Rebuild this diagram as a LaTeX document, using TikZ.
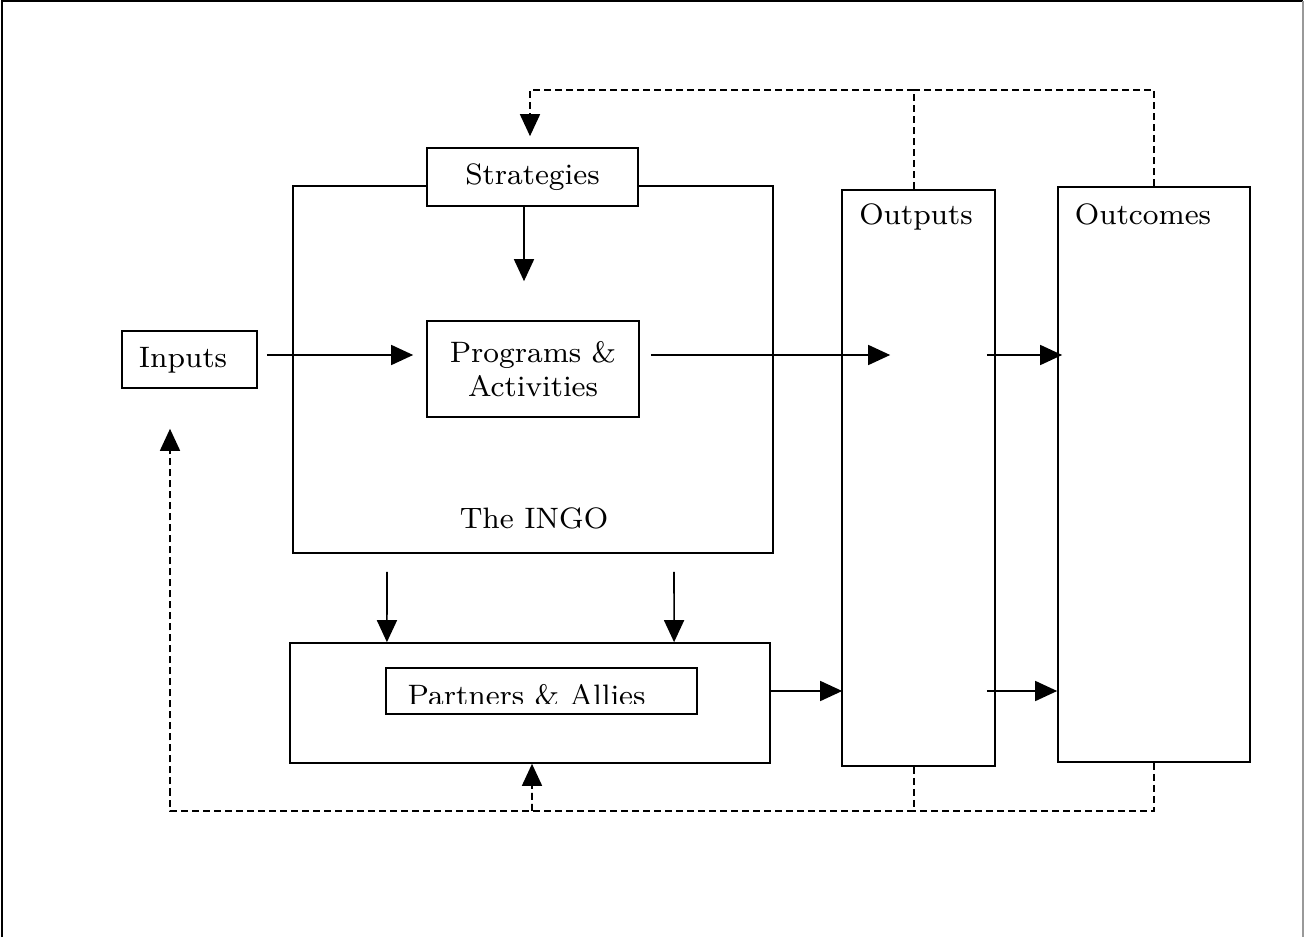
\documentclass[tikz,border=0pt]{standalone}
\usetikzlibrary{arrows.meta}
\begin{document}
\begin{tikzpicture}[x=0.01cm,y=-0.01cm,
  every node/.style={font=\fontsize{8.4}{9.7}\selectfont},
  box/.style={draw,line width=0.45pt,rectangle,inner sep=0pt,align=center},
  arr/.style={line width=0.45pt,-{Triangle[length=0.22cm,width=0.2cm]}},
  fb/.style={line width=0.45pt,dash pattern=on 0.07cm off 0.04cm},
  fbarr/.style={fb,-{Triangle[length=0.22cm,width=0.2cm]}},
  lab/.style={inner sep=0pt}]
\useasboundingbox (0,0) rectangle (1304,937);
% frame
\draw[line width=0.6pt] (2,937) -- (2,1) -- (1303,1);
\draw[line width=0.6pt,black!40] (1303,1) -- (1303,937);
% boxes
\node[box,minimum width=4.80cm,minimum height=3.67cm] (ingo) at (533,369.5) {};
\node[lab] (ingolab) at (534,518) {The INGO};
\node[box,fill=white,minimum width=2.11cm,minimum height=0.58cm] (strat) at (532.5,177) {Strategies};
\node[box,minimum width=2.12cm,minimum height=0.96cm] (prog) at (533,369) {Programs \&\\Activities};
\node[box,minimum width=1.35cm,minimum height=0.57cm] (inputs) at (189.5,359.5) {};
\node[lab] (inputslab) at (183,360) {Inputs};
\node[box,minimum width=1.53cm,minimum height=5.76cm] (outputs) at (918.5,478) {};
\node[lab] (outputslab) at (916,217) {Outputs};
\node[box,minimum width=1.92cm,minimum height=5.75cm] (outcomes) at (1154,474.5) {};
\node[lab] (outcomeslab) at (1143,214) {Outcomes};
\node[box,minimum width=4.80cm,minimum height=1.20cm] (partners) at (530,703) {};
\node[box,minimum width=3.11cm,minimum height=0.46cm] (pinner) at (541.5,691) {};
\begin{scope}
  \clip (386,668) rectangle (697,703);
  \node[lab,anchor=base west] (plab) at (407,705) {Partners \& Allies};
\end{scope}
% solid arrows
\draw[arr] ([xshift=-0.085cm]strat.south) -- ([shift={(-9,-39)}]prog.north);
\draw[arr] ([shift={(9,-4.5)}]inputs.east) -- ([shift={(-13,-14)}]prog.west);
\draw[arr] ([shift={(11,-14)}]prog.east) -- ([shift={(49,-123)}]outputs.west);
\draw[arr] ([shift={(-9,-123)}]outputs.east) -- ([shift={(5,-119.5)}]outcomes.west);
\draw[arr] ([shift={(0,-12)}]partners.east) -- ([shift={(1,213)}]outputs.west);
\draw[arr] ([shift={(-9,213)}]outputs.east) -- ([shift={(0,216.5)}]outcomes.west);
\draw[arr] ([shift={(-146,18)}]ingo.south) -- ([xshift=-1.43cm]partners.north);
\draw[arr] ([shift={(141,18)}]ingo.south) -- ([xshift=1.44cm]partners.north);
% feedback bottom
\draw[fbarr] ([xshift=-0.045cm]outputs.south) -- ++(0,44) -| ([shift={(-19.5,40)}]inputs.south);
\draw[fb] (outcomes.south) |- ([shift={(-4.5,44)}]outputs.south);
\draw[fbarr] ([shift={(2,47)}]partners.south) -- ([xshift=0.02cm]partners.south);
% feedback top
\draw[fbarr] ([xshift=-0.045cm]outputs.north) -- ++(0,-99) -| ([shift={(-2.5,-11)}]strat.north);
\draw[fb] (outcomes.north) |- ([shift={(-4.5,-99)}]outputs.north);
\end{tikzpicture}
\end{document}
